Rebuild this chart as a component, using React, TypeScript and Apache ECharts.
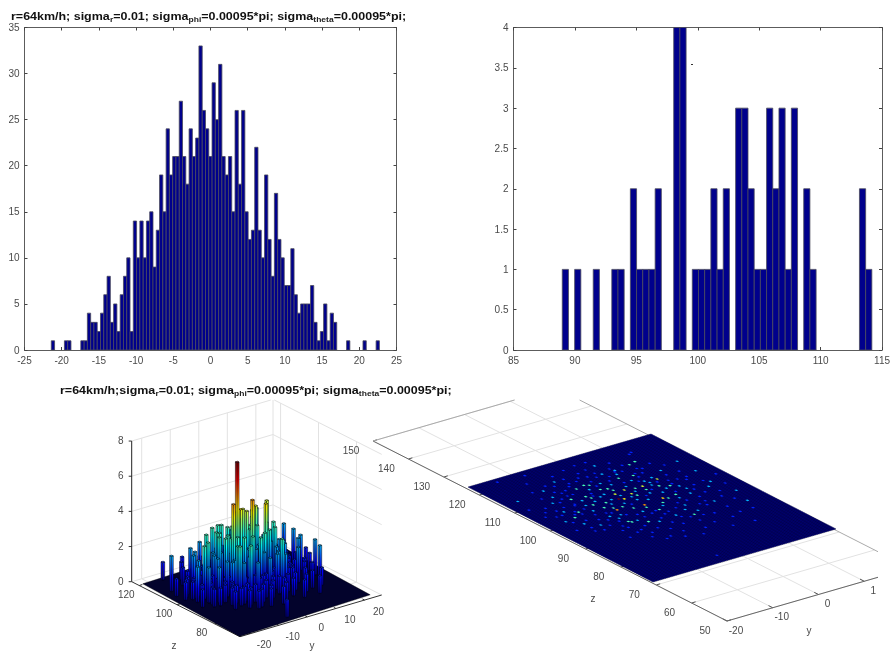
import React, { useEffect, useRef } from "react";
import * as echarts from "echarts";

const histACounts = [1,0,0,0,1,1,0,0,0,1,1,4,3,3,2,4,6,8,3,5,2,6,8,10,2,14,10,14,10,14,15,9,13,19,15,24,19,21,21,27,21,18,24,21,23,33,26,24,21,29,25,31,21,19,21,15,26,18,26,15,12,13,22,13,10,19,12,8,17,12,10,7,7,11,6,4,5,5,5,7,3,1,2,5,1,4,3,0,0,0,1,0,0,0,0,1,0,0,0,1];
const histAStart = -21.4;
const histABin = 0.441;
const histARangeX = [-25, 25];
const histBCounts = [1,0,1,0,0,1,0,0,1,1,0,2,1,1,1,2,0,0,4,4,0,1,1,1,2,1,2,0,3,3,2,1,1,3,2,3,1,3,0,2,1,0,0,0,0,0,0,0,2,1];
const histBStart = 88.97;
const histBBin = 0.504;
const histBRangeX = [85, 115];

// [y cell, z cell, count] read from the top-down view and checked against the tall view
const cells: number[][] = [
[44,62,7],[52,67,4],[61,66,4],[71,68,4],[60,54,4.5],[46,61,4.3],[36,55,5],[49,53,5],[52,63,4],
[71,83,3],[75,84,3],[90,76,2],[58,89,2],[78,73,2],[58,76,3],[62,82,2],[65,75,3],[55,82,2],[70,70,2],
[41,78,3],[43,77,3],[36,77,3],[33,86,2],[23,82,2],[44,72,3],[47,71,3],[48,69,3],[46,66,4],[57,66,3],
[53,61,3],[60,63,3],[66,67,2],[67,63,3],[71,61,3],[67,54,3],[62,53,3],[57,51,3],[51,47,3],[53,40,2],
[60,42,2],[64,39,2],[60,37,3],[84,53,2],[91,45,2],[76,42,2],[73,52,2],[22,76,2],[27,71,3],[34,70,3],
[35,68,3],[39,67,2],[31,63,3],[37,62,3],[36,57,3],[33,59,3],[40,56,3],[43,53,3],[48,51,3],[39,41,3],
[32,45,3],[33,44,3],[31,49,2],[29,52,2],[20,48,2],[15,52,2],[16,58,3],[21,61,3],[16,64,2],[10,57,2],
[18,72,2],[43,39,2],[36,44,2],
[51,93,1],[52,88,1],[53,84,1],[47,87,1],[30,83,1],[38,86,1],[37,82,1],[27,85,1],[18,83,1],[27,96,1],
[17,77,1],[28,74,1],[21,71,1],[9,67,1],[25,62,1],[23,52,1],[8,49,1],[14,45,1],[26,50,1],[27,43,1],
[31,37,1],[33,33,1],[42,32,1],[50,33,1],[58,32,1],[68,34,1],[77,36,1],[74,48,1],[85,48,1],[81,62,1],
[80,57,1],[84,69,1],[77,69,1],[83,76,1],[79,80,1],[80,91,1],[65,88,1],[64,80,1],[73,78,1],[73,62,1],
[63,70,1],[57,72,1],[25,67,1],[21,59,1],[25,56,1],[32,54,1],[36,50,1],[40,48,1],[46,46,1],[53,44,1],
[54,38,1],[69,43,1],[62,48,1],[67,48,1],[71,41,1],[85,40,1],[40,5,1],[37,27,1],[42,24,1],[13,97,1],[77,21,1],
[5,72,1],[7,80,2],[12,70,1],[10,62,1],[14,66,1],[6,64,1],[18,60,1],[15,48,1],[18,44,1],[24,40,1],[28,36,1],
[22,34,1],[30,30,1],[34,26,1],[45,28,1],[50,22,1],[55,26,1],[62,28,1],[66,22,1],[72,28,1],[78,30,1],[85,30,1],
[88,36,2],[92,52,1],[95,60,1],[90,66,2],[88,56,2],[82,44,1],[75,56,2],
[28,77,1],[44,84,1],[46,79,1],[61,84,1],[61,81,1],[67,76,1],[65,69,2],[59,60,2],[78,90,1],[30,68,2],
[38,60,2],[41,63,2],[43,58,2],[45,56,1],[50,58,2],[54,56,2],[56,59,1],[47,64,2],[50,61,2],[55,64,2],
[42,68,2],[38,71,1],[31,74,1],[34,65,2],[28,64,2],[24,66,1],[27,59,2],[30,55,1],[34,51,2],[44,49,2],
[49,47,1],[55,49,2],[58,45,1],[63,45,2],[66,51,2],[69,56,1],[74,59,2],[68,60,2],[64,58,2],[62,62,1],
[65,65,2],[69,66,1],[74,65,1],[55,69,2],[51,73,2],[53,76,1],[48,76,2],[45,75,1],[40,74,2],[37,69,1],
[61,72,2],[66,73,1],[70,75,1],[60,79,2],[56,79,1],[51,81,1],[48,83,1],[41,82,1],[35,80,1],[31,78,1],
[26,79,1],[24,73,1],[19,67,1],[13,62,1],[12,55,1],[18,54,1],[23,46,1],[29,47,1],[35,39,1],[38,35,1],
[47,36,1],[46,41,1],[50,43,1],[57,36,1],[63,35,1],[73,44,1],[79,50,1],[77,54,1],[86,58,1],[83,64,1],
[78,64,1],[71,79,1],[68,84,1],[57,93,1],[44,92,1],[36,90,1],[22,90,1],[20,62,1],[41,45,1],[28,41,1],
];
const cellCount = 100;
const maxCount = 7;

const leftHeightTicks = [0, 2, 4, 6, 8];
const leftYTicks = [-20, -10, 0, 10, 20];
const leftZTicks = [120, 100, 80];
const rightZTicks = [150, 140, 130, 120, 110, 100, 90, 80, 70, 60, 50];
const rightYTicks = [-20, -10, 0, 10];
const rightYLabels = ["-20", "-10", "0", "1"];

const titleTop = "{a|r=64km/h; sigma}{s|r}{a|=0.01; sigma}{s|phi}{a|=0.00095*pi; sigma}{s|theta}{a|=0.00095*pi;}";
const titleBottom = "{a|r=64km/h;sigma}{s|r}{a|=0.01; sigma}{s|phi}{a|=0.00095*pi; sigma}{s|theta}{a|=0.00095*pi;}";

const FONT = '"Liberation Sans", Arial, sans-serif';
const TICK_COLOR = "#4a4a4a";
const AXIS_COLOR = "#5c5c5c";
const GRID_COLOR = "#e2e2e2";
const BAR_FILL = "#00008c";
const BAR_EDGE = "#4a4a5c";

type P = [number, number];
const jetNodes: [number, number[]][] = [
  [0, [0, 0, 128]], [0.11, [0, 0, 255]], [0.36, [0, 255, 255]], [0.61, [255, 255, 0]], [0.86, [255, 0, 0]], [1, [128, 0, 0]],
];
function jet(t: number) {
  const v = Math.max(0, Math.min(1, t));
  for (let k = 1; k < jetNodes.length; k++) {
    if (v <= jetNodes[k][0]) {
      const [t0, c0] = jetNodes[k - 1];
      const [t1, c1] = jetNodes[k];
      const f = (v - t0) / (t1 - t0);
      return `rgb(${c0.map((c, n) => Math.round(c + (c1[n] - c) * f)).join(",")})`;
    }
  }
  return "rgb(128,0,0)";
}

// left 3D view geometry
const LF: P = [239.5, 636.5];
const LU: P = [130.7 / cellCount, -41.7 / cellCount];
const LV: P = [-96.7 / cellCount, -52.7 / cellCount];
const LH = 17.58;
const proj1 = (a: number, b: number, h: number): P => [LF[0] + a * LU[0] + b * LV[0], LF[1] + a * LU[1] + b * LV[1] - h * LH];

// right 3D view geometry
const RF: P = [653, 582];
const RU: P = [183 / cellCount, -53 / cellCount];
const RV: P = [-185 / cellCount, -95 / cellCount];
const proj2 = (a: number, b: number): P => [RF[0] + a * RU[0] + b * RV[0], RF[1] + a * RU[1] + b * RV[1]];

const sortedCells = [...cells].sort((p, q) => proj1(p[0], p[1], 0)[1] - proj1(q[0], q[1], 0)[1]);

// left box
const L0: P = [131.7, 581.7];
const F0: P = [240, 636.7];
const R0: P = [381.7, 595];
const B0: P = [273, 540];
const yL = (v: number): number => (v + 23.5) / 49.5;
const zL = (v: number): number => (124 - v) / 57.3;
const mix = (p: P, q: P, t: number): P => [p[0] + (q[0] - p[0]) * t, p[1] + (q[1] - p[1]) * t];

// right box
const A2: P = [373, 441];
const C2: P = [727, 621];
const ySpan: P = [183, -53];
const yR = (v: number): number => (v + 20) / 40;
const zR = (v: number): number => (150 - v) / 100;
const CLIP_TOP = 400;
const CLIP_RIGHT = 878;

function seg(p: P, q: P, stroke: string, lineWidth = 1, z = 0) {
  let a = p, b = q;
  if (a[1] < CLIP_TOP && b[1] < CLIP_TOP) return null;
  if (a[1] < CLIP_TOP) a = mix(a, b, (CLIP_TOP - a[1]) / (b[1] - a[1]));
  if (b[1] < CLIP_TOP) b = mix(b, a, (CLIP_TOP - b[1]) / (a[1] - b[1]));
  if (a[0] > CLIP_RIGHT && b[0] > CLIP_RIGHT) return null;
  if (a[0] > CLIP_RIGHT) a = mix(a, b, (a[0] - CLIP_RIGHT) / (a[0] - b[0]));
  if (b[0] > CLIP_RIGHT) b = mix(b, a, (b[0] - CLIP_RIGHT) / (b[0] - a[0]));
  return { type: "line", silent: true, z, shape: { x1: a[0], y1: a[1], x2: b[0], y2: b[1] }, style: { stroke, lineWidth } };
}
const label = (text: string, p: P, z = 5) => ({
  type: "text", silent: true, z, x: p[0], y: p[1],
  style: { text, fill: TICK_COLOR, font: `10px ${FONT}`, align: "center", verticalAlign: "middle" },
});

function boxGraphics() {
  const out: any[] = [];
  const up = (p: P, h: number): P => [p[0], p[1] - h * LH];
  for (const h of leftHeightTicks) {
    out.push(seg(up(L0, h), up(B0, h), GRID_COLOR), seg(up(B0, h), up(R0, h), GRID_COLOR));
    const t = up(L0, h);
    out.push(seg(t, [t[0] - 3, t[1]], "#333"));
    out.push(label(String(h), [t[0] - 11, t[1] - 0.5]));
  }
  out.push(seg(up(B0, 0), up(B0, 8), GRID_COLOR));
  for (const v of leftYTicks) {
    const t = mix(L0, B0, yL(v));
    out.push(seg(t, up(t, 8), GRID_COLOR));
    const g = mix(F0, R0, yL(v));
    out.push(seg(g, t, GRID_COLOR));
    out.push(seg(g, [g[0] - 2, g[1] - 1], "#333"));
    out.push(label(String(v), [g[0] + 14, g[1] + 11]));
  }
  for (const v of leftZTicks) {
    const t = mix(B0, R0, zL(v));
    out.push(seg(t, up(t, 8), GRID_COLOR));
    const g = mix(L0, F0, zL(v));
    out.push(seg(g, t, GRID_COLOR));
    out.push(seg(g, [g[0] + 3, g[1] - 1], "#333"));
    out.push(label(String(v), [g[0] - 13, g[1] + 9]));
  }
  out.push(seg(up(L0, 0), up(L0, 8), "#222"));
  out.push(seg(L0, F0, "#333"), seg(F0, R0, "#333"));
  out.push(label("z", [174, 645]), label("y", [312, 645]));

  const C2b: P = [A2[0] + ySpan[0], A2[1] + ySpan[1]];
  const D2b: P = [C2[0] + ySpan[0], C2[1] + ySpan[1]];
  for (const v of rightZTicks) {
    const g = mix(A2, C2, zR(v));
    out.push(seg(g, [g[0] + ySpan[0], g[1] + ySpan[1]], GRID_COLOR));
    out.push(seg(g, [g[0] + 4, g[1] - 1.2], "#555"));
    out.push(label(String(v), [g[0] - 22, g[1] + 9]));
  }
  rightYTicks.forEach((v, n) => {
    const t = yR(v);
    const g: P = [C2[0] + ySpan[0] * t, C2[1] + ySpan[1] * t];
    const b: P = [A2[0] + ySpan[0] * t, A2[1] + ySpan[1] * t];
    out.push(seg(g, b, GRID_COLOR));
    out.push(seg(g, mix(g, b, 0.012), "#555"));
    out.push(label(rightYLabels[n], [g[0] + 9, g[1] + 9]));
  });
  out.push(seg(A2, C2, "#666"), seg(C2, D2b, "#666"), seg(A2, C2b, "#aaa"), seg(C2b, D2b, "#aaa"));
  out.push(label("z", [593, 598]), label("y", [809, 630]));

  out.push({ type: "rect", silent: true, z: 6, shape: { x: 691, y: 64, width: 2, height: 1 }, style: { fill: "#333" } });

  const richTitle = (text: string, x: number, y: number) => ({
    type: "text", silent: true, z: 6, x, y, scaleX: 1.135, originX: 0,
    style: {
      text, x: 0, y: 0, align: "left", verticalAlign: "middle",
      rich: {
        a: { font: `bold 11px ${FONT}`, fill: "#111", lineHeight: 11, verticalAlign: "top" },
        s: { font: `bold 7.5px ${FONT}`, fill: "#222", lineHeight: 8, padding: [7, 0, 0, 0] },
      },
    },
  });
  out.push(richTitle(titleTop, 11, 16), richTitle(titleBottom, 60, 390));
  return out.filter(Boolean);
}

function histItem(start: number, bin: number) {
  return (_p: any, api: any) => {
    const i = api.value(0);
    const n = api.value(1);
    if (!n) return null;
    const a = api.coord([start + i * bin, n]);
    const b = api.coord([start + (i + 1) * bin, 0]);
    return { type: "rect", shape: { x: a[0], y: a[1], width: b[0] - a[0], height: b[1] - a[1] }, style: { fill: BAR_FILL, stroke: BAR_EDGE, lineWidth: 0.8 } };
  };
}

function bar3Item(_p: any, api: any) {
  const i = api.value(0), j = api.value(1), h = api.value(2);
  const g = 0.3, w = 1.3;
  const a0 = i - g, a1 = i + w, b0 = j - g, b1 = j + w;
  const stops: any[] = [];
  const top = h / maxCount;
  stops.push({ offset: 0, color: jet(0) });
  for (const [t] of jetNodes) if (t > 0 && t < top) stops.push({ offset: t / top, color: jet(t) });
  stops.push({ offset: 1, color: jet(top) });
  const grad = () => new echarts.graphic.LinearGradient(0, 1, 0, 0, stops);
  const quad = (pts: P[], fill: any) => ({ type: "polygon", shape: { points: pts }, style: { fill, stroke: "rgba(0,0,8,0.85)", lineWidth: 0.6 } });
  return {
    type: "group",
    children: [
      quad([proj1(a0, b0, 0), proj1(a1, b0, 0), proj1(a1, b0, h), proj1(a0, b0, h)], grad()),
      quad([proj1(a0, b0, 0), proj1(a0, b1, 0), proj1(a0, b1, h), proj1(a0, b0, h)], grad()),
      quad([proj1(a0, b0, h), proj1(a1, b0, h), proj1(a1, b1, h), proj1(a0, b1, h)], jet(top)),
    ],
  };
}

function plane1Item() {
  return { type: "polygon", shape: { points: [proj1(0, 0, 0), proj1(cellCount, 0, 0), proj1(cellCount, cellCount, 0), proj1(0, cellCount, 0)] }, style: { fill: "#03032c", stroke: "#000", lineWidth: 0.4 } };
}

function plane2Item() {
  const children: any[] = [{ type: "polygon", shape: { points: [proj2(0, 0), proj2(cellCount, 0), proj2(cellCount, cellCount), proj2(0, cellCount)] }, style: { fill: "#000096" } }];
  for (let k = 0; k <= cellCount; k++) {
    const p0 = proj2(k, 0), p1 = proj2(k, cellCount), q0 = proj2(0, k), q1 = proj2(cellCount, k);
    children.push({ type: "line", shape: { x1: p0[0], y1: p0[1], x2: p1[0], y2: p1[1] }, style: { stroke: "#000020", lineWidth: 0.4 } });
    children.push({ type: "line", shape: { x1: q0[0], y1: q0[1], x2: q1[0], y2: q1[1] }, style: { stroke: "#000020", lineWidth: 0.4 } });
  }
  return { type: "group", children };
}

function dotItem(_p: any, api: any) {
  const i = api.value(0), j = api.value(1), h = api.value(2);
  const w = 1.1;
  return { type: "polygon", shape: { points: [proj2(i, j), proj2(i + w, j), proj2(i + w, j + w), proj2(i, j + w)] }, style: { fill: jet(h / maxCount) } };
}

const axisBase = (extra: any) => ({
  type: "value", splitLine: { show: false },
  axisLine: { show: true, onZero: false, lineStyle: { color: AXIS_COLOR, width: 1 } },
  axisTick: { show: true, inside: true, length: 3, lineStyle: { color: "#444" } },
  axisLabel: { show: true, color: TICK_COLOR, fontFamily: FONT, fontSize: 10, margin: 5, showMinLabel: true, showMaxLabel: true, hideOverlap: false },
  ...extra,
});
const hiddenLabel = { axisLabel: { show: false } };

export default function App() {
  const ref = useRef<HTMLDivElement>(null);
  useEffect(() => {
    if (!ref.current) return;
    const chart = echarts.init(ref.current, undefined, { renderer: "svg", width: 893, height: 652 });
    const xs = [
      { min: histARangeX[0], max: histARangeX[1], interval: 5 },
      { min: histBRangeX[0], max: histBRangeX[1], interval: 5 },
    ];
    const ys = [{ min: 0, max: 35, interval: 5 }, { min: 0, max: 4, interval: 0.5 }];
    chart.setOption({
      animation: false,
      backgroundColor: "#fff",
      grid: [
        { left: 24.5, top: 27.5, width: 372, height: 322.5 },
        { left: 513.5, top: 27.5, width: 372, height: 322.5 },
      ],
      xAxis: [
        axisBase({ gridIndex: 0, position: "bottom", ...xs[0] }),
        axisBase({ gridIndex: 0, position: "top", ...xs[0], ...hiddenLabel }),
        axisBase({ gridIndex: 1, position: "bottom", ...xs[1] }),
        axisBase({ gridIndex: 1, position: "top", ...xs[1], ...hiddenLabel }),
      ],
      yAxis: [
        axisBase({ gridIndex: 0, position: "left", ...ys[0] }),
        axisBase({ gridIndex: 0, position: "right", ...ys[0], ...hiddenLabel }),
        axisBase({ gridIndex: 1, position: "left", ...ys[1] }),
        axisBase({ gridIndex: 1, position: "right", ...ys[1], ...hiddenLabel }),
      ],
      graphic: { elements: boxGraphics() },
      series: [
        { type: "custom", xAxisIndex: 0, yAxisIndex: 0, renderItem: histItem(histAStart, histABin), data: histACounts.map((n, i) => [i, n]), encode: { x: 0, y: 1 }, clip: true, silent: true },
        { type: "custom", xAxisIndex: 2, yAxisIndex: 2, renderItem: histItem(histBStart, histBBin), data: histBCounts.map((n, i) => [i, n]), encode: { x: 0, y: 1 }, clip: true, silent: true },
        { type: "custom", coordinateSystem: "none", renderItem: plane2Item, data: [[0]], silent: true, z: 2 },
        { type: "custom", coordinateSystem: "none", renderItem: dotItem, data: cells, silent: true, z: 3 },
        { type: "custom", coordinateSystem: "none", renderItem: plane1Item, data: [[0]], silent: true, z: 4 },
        { type: "custom", coordinateSystem: "none", renderItem: bar3Item, data: sortedCells, silent: true, z: 5 },
      ],
    });
    return () => chart.dispose();
  }, []);
  return <div ref={ref} style={{ position: "fixed", left: 0, top: 0, width: 893, height: 652, filter: "blur(0.4px)" }} />;
}
